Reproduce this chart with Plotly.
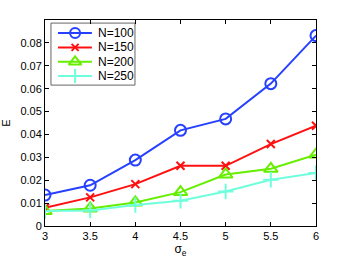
import plotly.graph_objects as go

sigma_e = [3, 3.5, 4, 4.5, 5, 5.5, 6]
n100 = [0.0135, 0.0178, 0.0288, 0.0418, 0.0468, 0.0622, 0.0832]
n150 = [0.0080, 0.0125, 0.0183, 0.0263, 0.0263, 0.0358, 0.0438]
n200 = [0.0065, 0.0077, 0.0103, 0.0148, 0.0225, 0.0250, 0.0312]
n250 = [0.0065, 0.0068, 0.0092, 0.0110, 0.0151, 0.0202, 0.0232]
names = ["N=100", "N=150", "N=200", "N=250"]
colors = ["#2640ff", "#ff1010", "#66ee00", "#70ffdc"]
symbols = ["circle-open", "x-thin-open", "triangle-up-open", "cross-thin-open"]
sizes = [11, 8, 12, 11]
ytick_vals = [0, 0.01, 0.02, 0.03, 0.04, 0.05, 0.06, 0.07, 0.08]
ytick_text = ["0", "0.01", "0.02", "0.03", "0.04", "0.05", "0.06", "0.07", "0.08"]
xtick_vals = [3, 3.5, 4, 4.5, 5, 5.5, 6]
xtick_text = ["3", "3.5", "4", "4.5", "5", "5.5", "6"]

FONT = "Liberation Sans, Arial"

fig = go.Figure()
for ys, nm, c, s, sz in zip([n100, n150, n200, n250], names, colors, symbols, sizes):
    fig.add_trace(go.Scatter(
        x=sigma_e, y=ys, name=nm, mode="lines+markers", showlegend=False,
        line=dict(color=c, width=2),
        marker=dict(symbol=s, size=sz, color=c, line=dict(color=c, width=2)),
    ))

# custom legend (MATLAB style) in axes-fraction coordinates on an overlaid axis
leg_x0, leg_x1, leg_y0, leg_y1 = 0.022, 0.332, 0.684, 0.985
row_y = [0.937, 0.867, 0.797, 0.728]
fig.add_trace(go.Scatter(
    x=[leg_x0, leg_x1, leg_x1, leg_x0, leg_x0], y=[leg_y0, leg_y0, leg_y1, leg_y1, leg_y0],
    mode="lines", fill="toself", fillcolor="white", line=dict(color="#666666", width=1),
    xaxis="x2", yaxis="y2", showlegend=False, hoverinfo="skip"))
for nm, c, s, sz, ry in zip(names, colors, symbols, sizes, row_y):
    fig.add_trace(go.Scatter(
        x=[0.048, 0.173], y=[ry, ry], mode="lines", xaxis="x2", yaxis="y2",
        line=dict(color=c, width=2), showlegend=False, hoverinfo="skip"))
    fig.add_trace(go.Scatter(
        x=[0.111], y=[ry], mode="markers", xaxis="x2", yaxis="y2",
        marker=dict(symbol=s, size=sz - 1, color=c, line=dict(color=c, width=2)),
        showlegend=False, hoverinfo="skip"))
    fig.add_annotation(x=0.19, y=ry, xref="x2", yref="y2", text=nm, showarrow=False,
                       xanchor="left", yanchor="middle",
                       font=dict(family=FONT, size=12, color="black"))

axis_common = dict(
    showgrid=False, zeroline=False, showline=True, linecolor="black", linewidth=1,
    mirror="ticks", ticks="inside", ticklen=4, tickcolor="black", automargin=False,
    tickfont=dict(family=FONT, size=11, color="black"),
)
fig.update_xaxes(range=[3, 6], tickvals=xtick_vals, ticktext=xtick_text,
                 title=dict(text="σ<sub>e</sub>", font=dict(family=FONT, size=12, color="black"), standoff=2),
                 **axis_common)
fig.update_yaxes(range=[0, 0.09], tickvals=ytick_vals, ticktext=ytick_text,
                 title=dict(text="E", font=dict(family=FONT, size=11, color="black"), standoff=10),
                 **axis_common)
fig.update_layout(
    template="none",
    width=349, height=263,
    margin=dict(l=45, r=33, t=20, b=37),
    paper_bgcolor="white", plot_bgcolor="white",
    showlegend=False, hovermode=False,
    xaxis2=dict(overlaying="x", range=[0, 1], visible=False, fixedrange=True, automargin=False),
    yaxis2=dict(overlaying="y", range=[0, 1], visible=False, fixedrange=True, automargin=False),
)
fig.write_html("out.html", config={"displayModeBar": False},
               post_script="document.body.style.margin='0px';")
